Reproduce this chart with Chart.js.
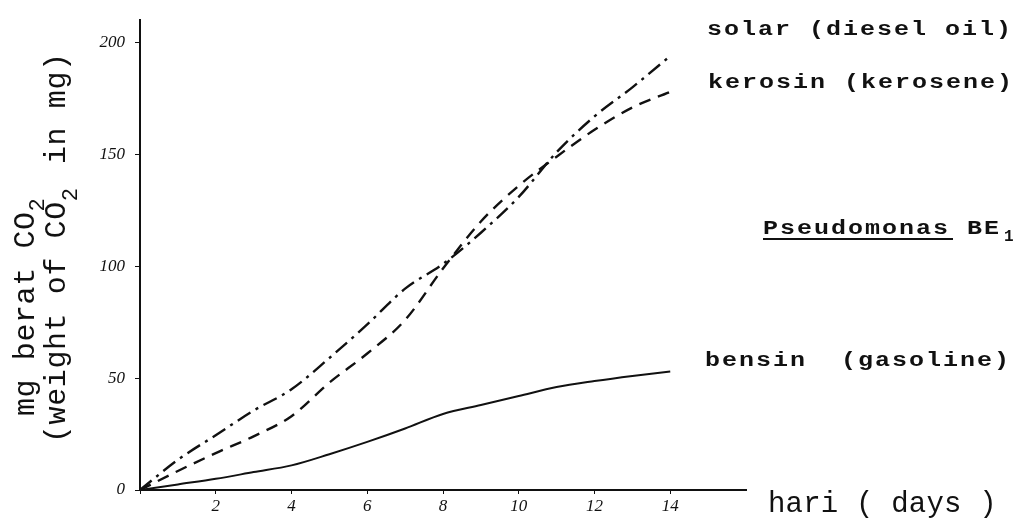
<!DOCTYPE html>
<html>
<head>
<meta charset="utf-8">
<script src="https://cdn.jsdelivr.net/npm/chart.js@4"></script>
<style>
  html, body { margin: 0; padding: 0; background: #fff; }
  canvas { display: block; }
</style>
</head>
<body>
<canvas id="co2-chart" width="1020" height="522"></canvas>
<script>
// days of incubation and mg CO2
const days    = [0, 1, 2, 3, 4, 5, 6, 7, 8, 9, 10, 11, 12, 13, 14];
const solar   = [0, 13.5, 24.5, 35.5, 45, 59, 74, 90, 101, 115, 131, 151, 167, 180, 194];
const kerosin = [0, 8.5, 16.5, 24, 33, 48, 61, 76, 99, 120, 136, 149, 161, 171, 178];
const bensin  = [0, 2.5, 5, 8, 11, 16, 21.5, 27.5, 34, 38, 42, 46, 48.7, 51, 53];

const xTicks = [0, 2, 4, 6, 8, 10, 12, 14];
const yTicks = [0, 50, 100, 150, 200];

const ink = '#111';
const pts = arr => arr.map((v, i) => ({ x: days[i], y: v }));

// typewriter text: fixed advance per character, optional horizontal stretch
function typeText(ctx, str, x, y, adv, stretch = 1) {
  ctx.save();
  ctx.scale(stretch, 1);
  for (let i = 0; i < str.length; i++) ctx.fillText(str[i], (x + i * adv) / stretch, y);
  ctx.restore();
}

const labelsPlugin = {
  id: 'typedLabels',
  afterDraw(chart) {
    const ctx = chart.ctx;
    ctx.save();
    ctx.fillStyle = ink;
    ctx.textBaseline = 'alphabetic';
    ctx.textAlign = 'left';

    ctx.font = 'bold 20px "Liberation Mono", monospace';
    typeText(ctx, 'solar (diesel oil)', 707, 35, 17, 1.25);
    typeText(ctx, 'kerosin (kerosene)', 708, 88, 17, 1.25);
    typeText(ctx, 'bensin  (gasoline)', 705, 366, 17, 1.25);
    typeText(ctx, 'Pseudomonas BE', 763, 234, 17, 1.25);
    ctx.font = 'bold 16px "Liberation Mono", monospace';
    ctx.fillText('1', 1004, 241);
    ctx.fillRect(763, 238, 190, 2);

    ctx.font = '29px "Liberation Mono", monospace';
    typeText(ctx, 'hari ( days )', 768, 512, 17.6);

    // rotated y-axis title, two typed lines
    ctx.rotate(-Math.PI / 2);
    ctx.font = '30px "Liberation Mono", monospace';
    typeText(ctx, 'mg berat CO', -416, 34, 18.6);
    typeText(ctx, '(weight of CO', -443, 65, 18.6);
    typeText(ctx, ' in mg)', -443 + 14 * 18.6, 65, 18.6);
    ctx.font = '22px "Liberation Mono", monospace';
    ctx.fillText('2', -416 + 11 * 18.6, 44);
    ctx.fillText('2', -443 + 13 * 18.6, 77);
    ctx.restore();
  }
};

new Chart(document.getElementById('co2-chart'), {
  type: 'line',
  data: {
    datasets: [
      { label: 'solar (diesel oil)', data: pts(solar), borderColor: ink, borderWidth: 2.4,
        borderDash: [15, 6, 3, 6] },
      { label: 'kerosin (kerosene)', data: pts(kerosin), borderColor: ink, borderWidth: 2.4,
        borderDash: [12, 8] },
      { label: 'bensin (gasoline)', data: pts(bensin), borderColor: ink, borderWidth: 2 }
    ]
  },
  options: {
    responsive: false,
    animation: false,
    elements: {
      point: { radius: 0 },
      line: { cubicInterpolationMode: 'monotone', fill: false }
    },
    layout: { padding: { top: 20, right: 274, left: 0, bottom: 0 } },
    plugins: { legend: { display: false }, tooltip: { enabled: false } },
    scales: {
      x: {
        type: 'linear', min: 0, max: 16,
        afterBuildTicks: s => { s.ticks = xTicks.map(v => ({ value: v })); },
        afterFit: s => { s.height = 32; },
        border: { color: ink, width: 2 },
        grid: { drawOnChartArea: false, drawTicks: true, tickLength: 4, color: ink },
        ticks: {
          color: ink, padding: 2,
          font: { family: '"Liberation Serif", serif', size: 17, style: 'italic' },
          callback: v => (v === 0 ? '' : String(v))
        }
      },
      y: {
        min: 0, max: 210,
        afterBuildTicks: s => { s.ticks = yTicks.map(v => ({ value: v })); },
        afterFit: s => { s.width = 140; },
        border: { color: ink, width: 2 },
        grid: { drawOnChartArea: false, drawTicks: true, tickLength: 5, color: ink },
        ticks: {
          color: ink, padding: 10,
          font: { family: '"Liberation Serif", serif', size: 17, style: 'italic' }
        }
      }
    }
  },
  plugins: [labelsPlugin]
});
</script>
</body>
</html>
